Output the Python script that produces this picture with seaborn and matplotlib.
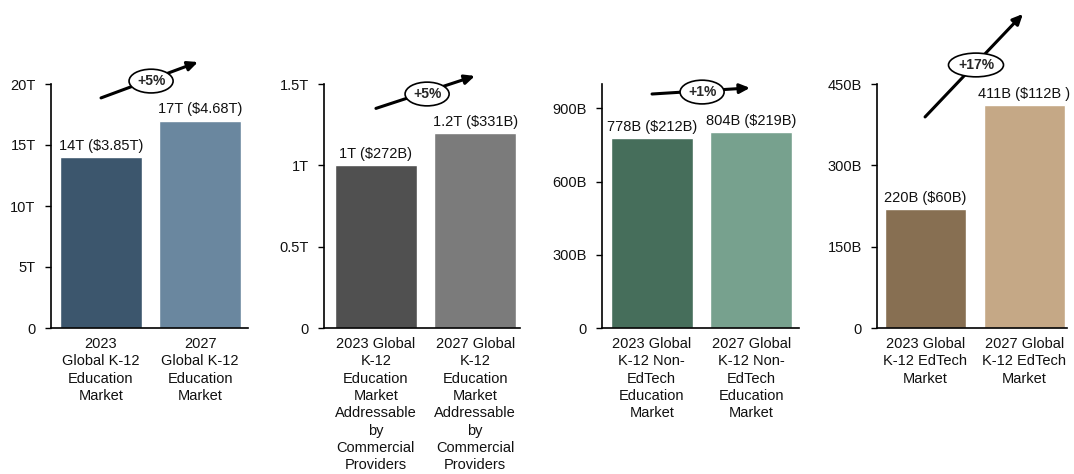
import matplotlib
matplotlib.use("Agg")
import matplotlib.pyplot as plt
import seaborn as sns

sns.set_style("white")
plt.rcParams["font.family"] = ["Liberation Sans", "DejaVu Sans"]

# --- data -------------------------------------------------------------
total_cats = ["2023\nGlobal K-12\nEducation\nMarket", "2027\nGlobal K-12\nEducation\nMarket"]
total_vals = [14, 17]
total_labels = ["14T ($3.85T)", "17T ($4.68T)"]
total_ticks = [0, 5, 10, 15, 20]
total_ticklabels = ["0", "5T", "10T", "15T", "20T"]

addr_cats = ["2023 Global\nK-12\nEducation\nMarket\nAddressable\nby\nCommercial\nProviders",
             "2027 Global\nK-12\nEducation\nMarket\nAddressable\nby\nCommercial\nProviders"]
addr_vals = [1.0, 1.2]
addr_labels = ["1T ($272B)", "1.2T ($331B)"]
addr_ticks = [0, 0.5, 1, 1.5]
addr_ticklabels = ["0", "0.5T", "1T", "1.5T"]

nonedtech_cats = ["2023 Global\nK-12 Non-\nEdTech\nEducation\nMarket",
                  "2027 Global\nK-12 Non-\nEdTech\nEducation\nMarket"]
nonedtech_vals = [778, 804]
nonedtech_labels = ["778B ($212B)", "804B ($219B)"]
nonedtech_ticks = [0, 300, 600, 900]
nonedtech_ticklabels = ["0", "300B", "600B", "900B"]

edtech_cats = ["2023 Global\nK-12 EdTech\nMarket", "2027 Global\nK-12 EdTech\nMarket"]
edtech_vals = [220, 411]
edtech_labels = ["220B ($60B)", "411B ($112B )"]
edtech_ticks = [0, 150, 300, 450]
edtech_ticklabels = ["0", "150B", "300B", "450B"]

growth = ["+5%", "+5%", "+1%", "+17%"]

# --- layout / styling ------------------------------------------------
panels = [
    dict(cats=total_cats, vals=total_vals, labels=total_labels, ticks=total_ticks,
         ticklabels=total_ticklabels, ylim=20, colors=["#3c566d", "#6a879f"],
         rect=[51, 197], xlim=(-0.5, 1.48),
         arrow=((0.254, 0.943), (0.746, 1.09)), badge=(0.508, 1.012)),
    dict(cats=addr_cats, vals=addr_vals, labels=addr_labels, ticks=addr_ticks,
         ticklabels=addr_ticklabels, ylim=1.5, colors=["#505050", "#7b7b7b"],
         rect=[324, 196], xlim=(-0.52, 1.45),
         arrow=((0.265, 0.90), (0.77, 1.033)), badge=(0.526, 0.959)),
    dict(cats=nonedtech_cats, vals=nonedtech_vals, labels=nonedtech_labels, ticks=nonedtech_ticks,
         ticklabels=nonedtech_ticklabels, ylim=1000, colors=["#466e5b", "#77a18e"],
         rect=[602, 197], xlim=(-0.5, 1.48),
         arrow=((0.254, 0.959), (0.751, 0.984)), badge=(0.508, 0.967)),
    dict(cats=edtech_cats, vals=edtech_vals, labels=edtech_labels, ticks=edtech_ticks,
         ticklabels=edtech_ticklabels, ylim=450, colors=["#876f52", "#c5a886"],
         rect=[877, 190], xlim=(-0.49, 1.43),
         arrow=((0.253, 0.865), (0.768, 1.287)), badge=(0.521, 1.078)),
]

W, H = 1074, 474
fig = plt.figure(figsize=(W / 100, H / 100), dpi=100)
ax_bottom, ax_top = 328, 84

for p, g in zip(panels, growth):
    left, width = p["rect"]
    ax = fig.add_axes([left / W, (H - ax_bottom) / H, width / W, (ax_bottom - ax_top) / H])
    sns.barplot(x=p["cats"], y=p["vals"], hue=p["cats"], palette=p["colors"],
                width=0.82, legend=False, ax=ax, saturation=1)
    ax.set_xlim(*p["xlim"])
    ax.set_ylim(0, p["ylim"])
    ax.set_yticks(p["ticks"])
    ax.set_yticklabels(p["ticklabels"], fontsize=10.5, color="#111111")
    ax.tick_params(axis="y", left=True, length=4, width=1, color="black", pad=7)
    ax.tick_params(axis="x", bottom=False, labelsize=10.5, pad=3, labelcolor="#111111")
    for lbl in ax.get_xticklabels():
        lbl.set_linespacing(1.3)
    ax.set_xlabel("")
    ax.set_ylabel("")
    sns.despine(ax=ax)
    for s in ("left", "bottom"):
        ax.spines[s].set_color("black")
        ax.spines[s].set_linewidth(1.2)

    for container in ax.containers:
        for bar in container:
            idx = int(round(bar.get_x() + bar.get_width() / 2))
            ax.annotate(p["labels"][idx], (bar.get_x() + bar.get_width() / 2, bar.get_height()),
                        xytext=(0, 3), textcoords="offset points", ha="center", va="bottom",
                        fontsize=10.5, color="#111111")

    (x0, y0), (x1, y1) = p["arrow"]
    ax.annotate("", xy=(x1, y1), xytext=(x0, y0), xycoords="axes fraction",
                textcoords="axes fraction", annotation_clip=False,
                arrowprops=dict(arrowstyle="-|>,head_length=0.6,head_width=0.28",
                                lw=2.2, color="black", shrinkA=0, shrinkB=0))
    bx, by = p["badge"]
    ax.text(bx, by, g, transform=ax.transAxes, ha="center", va="center",
            fontsize=10, fontweight="bold", clip_on=False, zorder=5,
            bbox=dict(boxstyle="ellipse,pad=0.1", fc="white", ec="black", lw=1.2))

fig.savefig("out.png", dpi=100)
